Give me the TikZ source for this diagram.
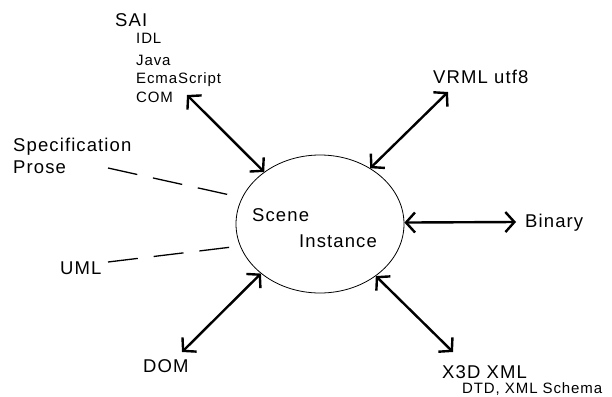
\documentclass[tikz,border=0pt]{standalone}
\usepackage{fontspec}
\setmainfont{Liberation Sans}
\newfontfamily\lblfont{Liberation Sans}[LetterSpace=6]
\usetikzlibrary{shapes.geometric,arrows.meta}

\tikzset{
  biglabel/.style={anchor=base west, inner sep=0pt,
    font=\lblfont\fontsize{18.5}{22}\selectfont},
  smalllabel/.style={anchor=base west, inner sep=0pt,
    font=\lblfont\fontsize{15}{18}\selectfont},
  link/.style={line width=2.4pt,
    {Straight Barb[length=9pt,width=20pt]}-{Straight Barb[length=9pt,width=20pt]}},
  loose/.style={line width=1.3pt, dash pattern=on 30pt off 16pt},
}

\begin{document}
\begin{tikzpicture}[x=1pt,y=-1pt]
  \useasboundingbox (0,0) rectangle (612,396);

  % central scene
  \node[draw, ellipse, line width=0.8pt, inner sep=0pt,
        minimum width=168pt, minimum height=138pt] (scene) at (320,224) {};
  \node[biglabel] (scenetxt) at (252,221) {Scene};
  \node[biglabel] (insttxt) at (299,247) {Instance};

  % SAI and its bindings
  \node[biglabel] (sai) at (115,27) {SAI};
  \node[smalllabel] (idl) at (136,44) {IDL};
  \node[smalllabel] (java) at (136,65) {Java};
  \node[smalllabel] (ecma) at (136,83) {EcmaScript};
  \node[smalllabel] (com) at (136,102) {COM};

  % encodings
  \node[biglabel] (vrml) at (433,83) {VRML utf8};
  \node[biglabel] (binary) at (525,227) {Binary};
  \node[biglabel] (x3d) at (442,378) {X3D XML};
  \node[smalllabel] (schema) at (462,393) {DTD, XML Schema};
  \node[biglabel] (dom) at (143,372) {DOM};

  % documentation
  \node[biglabel] (spec) at (13,151) {Specification};
  \node[biglabel] (prose) at (13,173) {Prose};
  \node[biglabel] (uml) at (60,274) {UML};

  % connector end points
  \coordinate (sai-end) at (187,95);
  \coordinate (vrml-end) at (448,92);
  \coordinate (bin-end) at (516,222);
  \coordinate (dom-end) at (182,352);
  \coordinate (x3d-end) at (453,352);
  \coordinate (spec-a) at (108,168);
  \coordinate (spec-b) at (230,195);
  \coordinate (uml-a) at (108,262);
  \coordinate (uml-b) at (232,247);

  % two-way links
  \draw[link] (sai-end) -- (scene.137);
  \draw[link] (vrml-end) -- (scene.48);
  \draw[link] (bin-end) -- (scene.1);
  \draw[link] (dom-end) -- (scene.220);
  \draw[link] (x3d-end) -- (scene.317);

  % informal relations
  \draw[loose] (spec-a) -- (spec-b);
  \draw[loose] (uml-a) -- (uml-b);
\end{tikzpicture}
\end{document}
